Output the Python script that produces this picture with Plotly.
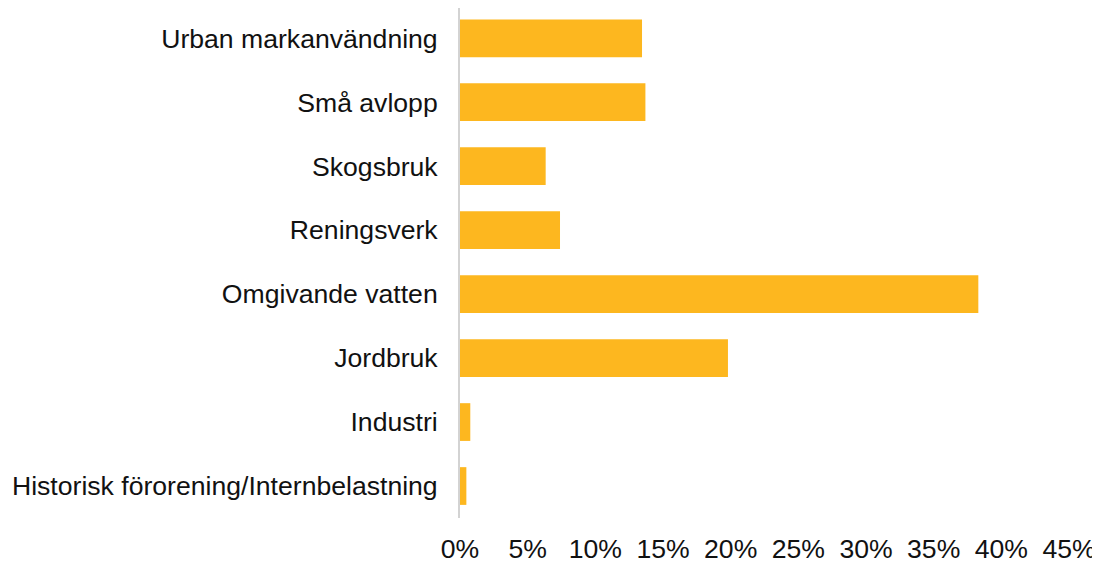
import plotly.graph_objects as go

# Source shares (%)
categories = [
    "Urban markanvändning",
    "Små avlopp",
    "Skogsbruk",
    "Reningsverk",
    "Omgivande vatten",
    "Jordbruk",
    "Industri",
    "Historisk förorening/Internbelastning",
]
shares = [13.45, 13.7, 6.33, 7.39, 38.3, 19.8, 0.76, 0.47]
tickValues = [0, 5, 10, 15, 20, 25, 30, 35, 40, 45]
tickLabels = [f"{v}%" for v in tickValues]

fig = go.Figure()
fig.add_trace(go.Bar(
    y=categories,
    x=shares,
    orientation="h",
    marker=dict(color="#FDB71F", line=dict(width=0)),
))

# The page body has an 8px default margin, so the figure is 8px smaller
fig.update_layout(
    width=1092,
    height=555,
    margin=dict(l=452, r=31, t=0, b=45, autoexpand=False),
    plot_bgcolor="white",
    paper_bgcolor="white",
    bargap=0.41,
    showlegend=False,
    font=dict(family="Liberation Sans, Arial, sans-serif", size=26.6, color="#111111"),
    xaxis=dict(
        range=[0, 45],
        tickvals=tickValues,
        ticktext=tickLabels,
        showgrid=False,
        zeroline=False,
        showline=False,
        ticks="",
        ticklabelstandoff=12,
        automargin=False,
        fixedrange=True,
    ),
    yaxis=dict(
        range=[7.5, -0.473],
        showgrid=False,
        zeroline=False,
        showline=True,
        linecolor="#d3d3d3",
        linewidth=2,
        ticks="",
        ticklabelstandoff=15,
        automargin=False,
        fixedrange=True,
    ),
)

fig.write_html("out.html")
